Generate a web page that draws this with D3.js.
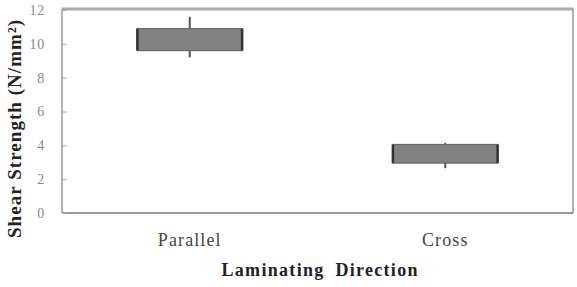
<!DOCTYPE html>
<html>
<head>
<meta charset="utf-8">
<script src="https://cdn.jsdelivr.net/npm/d3@7"></script>
<style>
  body { margin: 0; background: #fff; }
  svg { display: block; }
</style>
</head>
<body>
<div id="grafico"></div>
<script>
// dados do grafico
var categorias = ['Parallel', 'Cross'];
var caixaMin = [9.6, 2.95];      // base da caixa
var caixaMax = [10.9, 4.05];     // topo da caixa
var bigodeMin = [9.2, 2.65];     // bigode inferior
var bigodeMax = [11.6, 4.15];    // bigode superior
var yTicks = [0, 2, 4, 6, 8, 10, 12];

var largura = 577, altura = 287;
var margem = { top: 10, right: 4, bottom: 74, left: 62 };
var serifa = '"Liberation Serif", "DejaVu Serif", serif';

var svg = d3.select('#grafico').append('svg')
    .attr('width', largura)
    .attr('height', altura);

var x = d3.scaleBand()
    .domain(categorias)
    .range([margem.left, largura - margem.right])
    .padding(0);

var y = d3.scaleLinear()
    .domain([0, 12])
    .range([altura - margem.bottom, margem.top]);

var dados = categorias.map(function(c, i) {
    return { cat: c, b0: caixaMin[i], b1: caixaMax[i], w0: bigodeMin[i], w1: bigodeMax[i] };
});

// moldura
var x0 = margem.left, x1 = largura - margem.right;
var yTop = y(12) - 1, yBot = y(0);
svg.append('line').attr('x1', x0).attr('x2', x1).attr('y1', yTop).attr('y2', yTop)
    .style('stroke', '#aaa').style('stroke-width', 3);
svg.append('line').attr('x1', x1).attr('x2', x1).attr('y1', yTop).attr('y2', yBot)
    .style('stroke', '#999').style('stroke-width', 1.5);
svg.append('line').attr('x1', x0).attr('x2', x0).attr('y1', yTop).attr('y2', yBot)
    .style('stroke', '#999').style('stroke-width', 1.5);
svg.append('line').attr('x1', x0).attr('x2', x1).attr('y1', yBot).attr('y2', yBot)
    .style('stroke', '#777').style('stroke-width', 1.5);

// eixo y
var eixoY = d3.axisLeft(y).tickValues(yTicks).tickSize(-5).tickPadding(17).tickFormat(d3.format('d'));
var gy = svg.append('g').attr('transform', 'translate(' + x0 + ',0)').call(eixoY);
gy.select('.domain').remove();
gy.selectAll('line').style('stroke', '#aaa');
gy.selectAll('text')
    .style('font-family', serifa)
    .style('font-size', '14px')
    .style('letter-spacing', '0.8px')
    .style('fill', '#888');

// eixo x (so rotulos)
var eixoX = d3.axisBottom(x).tickSize(0).tickPadding(20);
var gx = svg.append('g').attr('transform', 'translate(0,' + yBot + ')').call(eixoX);
gx.select('.domain').remove();
gx.selectAll('text')
    .style('font-family', serifa)
    .style('font-size', '18px')
    .style('letter-spacing', '1.1px')
    .style('fill', '#444');

// caixas
var larguraCaixa = x.bandwidth() * 0.41;
var grupos = svg.selectAll('.caixa').data(dados).enter().append('g').attr('class', 'caixa');

grupos.append('line')   // bigodes
    .attr('x1', function(d) { return x(d.cat) + x.bandwidth() / 2; })
    .attr('x2', function(d) { return x(d.cat) + x.bandwidth() / 2; })
    .attr('y1', function(d) { return y(d.w1); })
    .attr('y2', function(d) { return y(d.w0); })
    .style('stroke', '#555').style('stroke-width', 2);

grupos.append('rect')
    .attr('x', function(d) { return x(d.cat) + (x.bandwidth() - larguraCaixa) / 2; })
    .attr('y', function(d) { return y(d.b1); })
    .attr('width', larguraCaixa)
    .attr('height', function(d) { return y(d.b0) - y(d.b1); })
    .style('fill', '#828282')
    .style('stroke', '#6a6a6a')
    .style('stroke-width', 1.2);

// bordas laterais escuras
[0, 1].forEach(function(lado) {
    grupos.append('line')
        .attr('x1', function(d) { return x(d.cat) + (x.bandwidth() - larguraCaixa) / 2 + lado * larguraCaixa; })
        .attr('x2', function(d) { return x(d.cat) + (x.bandwidth() - larguraCaixa) / 2 + lado * larguraCaixa; })
        .attr('y1', function(d) { return y(d.b1); })
        .attr('y2', function(d) { return y(d.b0); })
        .style('stroke', '#333').style('stroke-width', 2.5);
});

// titulos dos eixos
svg.append('text')
    .attr('x', (x0 + x1) / 2 + 2)
    .attr('y', 276)
    .attr('text-anchor', 'middle')
    .attr('textLength', 196)
    .attr('lengthAdjust', 'spacing')
    .style('font-family', serifa)
    .style('font-weight', 'bold')
    .style('font-size', '18px')
    .style('word-spacing', '5px')
    .style('fill', '#222')
    .text('Laminating Direction');

svg.append('text')
    .attr('transform', 'translate(21,' + 129 + ') rotate(-90)')
    .attr('text-anchor', 'middle')
    .attr('textLength', 218)
    .attr('lengthAdjust', 'spacing')
    .style('font-family', serifa)
    .style('font-weight', 'bold')
    .style('font-size', '19px')
    .style('fill', '#222')
    .text('Shear Strength (N/mm²)');
</script>
</body>
</html>
